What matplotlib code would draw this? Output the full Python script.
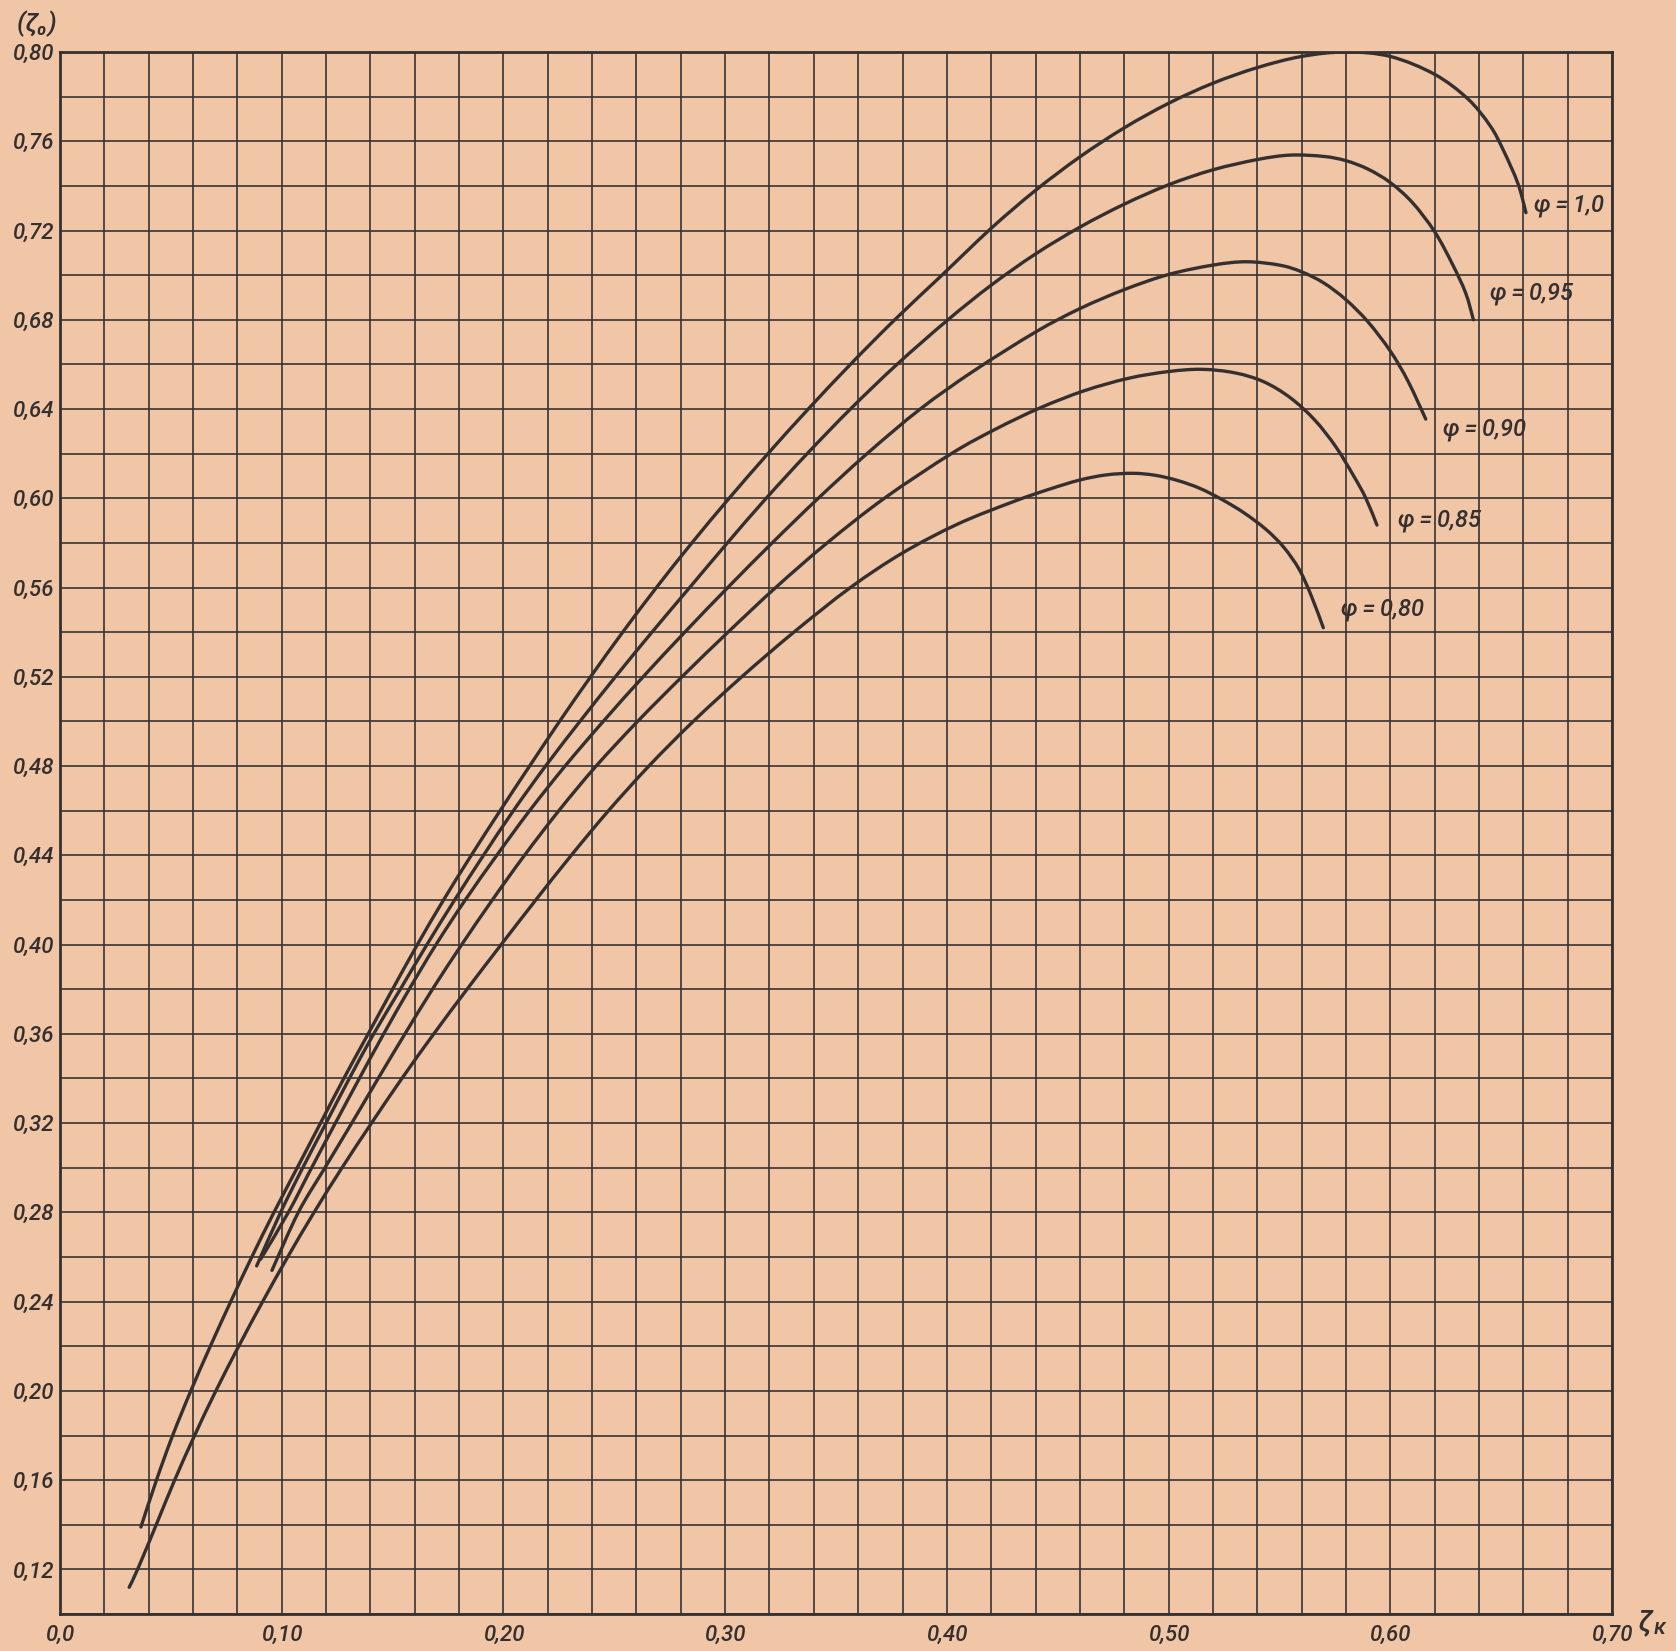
import numpy as np
import matplotlib.pyplot as plt
from matplotlib.path import Path
from matplotlib.patches import PathPatch

# curve values (tau_k, tau_0)
phi_labels = ['φ\u2009=\u20091,0', 'φ\u2009=\u20090,95', 'φ\u2009=\u20090,90',
              'φ\u2009=\u20090,85', 'φ\u2009=\u20090,80']

x_10 = [0.0365, 0.0435, 0.0508, 0.059, 0.0678, 0.077, 0.0865, 0.0965, 0.1070, 0.1175,
        0.1280, 0.1390, 0.1500, 0.1612, 0.1730, 0.1855, 0.1985, 0.2118, 0.2253, 0.2393,
        0.2538, 0.2690, 0.2850, 0.3018, 0.3193, 0.3375, 0.3565, 0.3765, 0.3978, 0.420,
        0.440, 0.460, 0.480, 0.500, 0.520, 0.540, 0.560, 0.580, 0.600, 0.620, 0.635,
        0.645, 0.651, 0.6576, 0.6612]
y_10 = [0.139, 0.160, 0.180, 0.200, 0.220, 0.240, 0.260, 0.280, 0.300, 0.320,
        0.340, 0.360, 0.380, 0.400, 0.420, 0.440, 0.460, 0.480, 0.500, 0.520,
        0.540, 0.560, 0.580, 0.600, 0.620, 0.640, 0.660, 0.680, 0.700, 0.721,
        0.738, 0.753, 0.766, 0.777, 0.786, 0.793, 0.798, 0.800, 0.798, 0.790, 0.779,
        0.767, 0.756, 0.741, 0.728]

x_095 = [0.0887, 0.0995, 0.1095, 0.1200, 0.1305, 0.1415, 0.1535, 0.1655, 0.1780, 0.1910,
         0.2045, 0.2190, 0.2345, 0.2505, 0.2670, 0.2840, 0.3010, 0.3185, 0.3370, 0.3565,
         0.3775, 0.4005, 0.420, 0.440, 0.460, 0.480, 0.500, 0.520, 0.540, 0.555, 0.570,
         0.580, 0.590, 0.600, 0.610, 0.620, 0.628, 0.634, 0.6375]
y_095 = [0.256, 0.280, 0.300, 0.320, 0.340, 0.360, 0.380, 0.400, 0.420, 0.440,
         0.460, 0.480, 0.500, 0.520, 0.540, 0.560, 0.580, 0.600, 0.620, 0.640,
         0.660, 0.680, 0.6955, 0.7095, 0.7215, 0.7318, 0.7405, 0.7472, 0.7518, 0.7538, 0.7532,
         0.7513, 0.7475, 0.7415, 0.7325, 0.7195, 0.705, 0.692, 0.680]

x_090 = [0.0905, 0.1030, 0.1135, 0.1242, 0.1350, 0.1460, 0.1575, 0.1696, 0.1828, 0.1970,
         0.2118, 0.2278, 0.2450, 0.2630, 0.2818, 0.3012, 0.3212, 0.3420, 0.3640, 0.3880,
         0.412, 0.440, 0.460, 0.480, 0.500, 0.520, 0.535, 0.550, 0.560, 0.570,
         0.580, 0.590, 0.600, 0.608, 0.616]
y_090 = [0.259, 0.280, 0.300, 0.320, 0.340, 0.360, 0.380, 0.400, 0.420, 0.440,
         0.460, 0.480, 0.500, 0.520, 0.540, 0.560, 0.580, 0.600, 0.620, 0.640,
         0.657, 0.6745, 0.6850, 0.6935, 0.7003, 0.7045, 0.706, 0.7045, 0.7015, 0.6965,
         0.6890, 0.6790, 0.6660, 0.6525, 0.6355]

x_085 = [0.0956, 0.1075, 0.1195, 0.1316, 0.1435, 0.1556, 0.1680, 0.1812, 0.1950, 0.2095,
         0.2250, 0.2418, 0.2605, 0.2805, 0.3013, 0.3228, 0.3460, 0.3718, 0.4020, 0.422,
         0.442, 0.462, 0.482, 0.500, 0.515, 0.530, 0.543, 0.555, 0.566, 0.5755,
         0.5835, 0.589, 0.594]
y_085 = [0.254, 0.280, 0.300, 0.320, 0.340, 0.360, 0.380, 0.400, 0.420, 0.440,
         0.460, 0.480, 0.500, 0.520, 0.540, 0.560, 0.580, 0.600, 0.620, 0.631,
         0.6405, 0.6482, 0.6538, 0.6568, 0.6578, 0.6562, 0.6522, 0.6450, 0.6350, 0.623,
         0.610, 0.600, 0.588]

x_080 = [0.0312, 0.0350, 0.0434, 0.0517, 0.0607, 0.0703, 0.0806, 0.0914, 0.1027, 0.1146,
         0.1272, 0.1405, 0.1542, 0.1686, 0.1836, 0.1990, 0.2146, 0.2306, 0.2474, 0.2656,
         0.2856, 0.3075, 0.3310, 0.3565, 0.380, 0.405, 0.430, 0.4466, 0.460, 0.472, 0.484,
         0.494, 0.504, 0.514, 0.524, 0.534, 0.544, 0.552, 0.559, 0.5645, 0.5698]
y_080 = [0.112, 0.120, 0.140, 0.160, 0.180, 0.200, 0.220, 0.240, 0.260, 0.280,
         0.300, 0.320, 0.340, 0.360, 0.380, 0.400, 0.420, 0.440, 0.460, 0.480,
         0.500, 0.520, 0.540, 0.560, 0.5755, 0.5885, 0.5985, 0.6042, 0.6082, 0.6105, 0.6112,
         0.6103, 0.6080, 0.6045, 0.5995, 0.5935, 0.5860, 0.5780, 0.5680, 0.556, 0.542]

x_ticks = [0.0, 0.1, 0.2, 0.3, 0.4, 0.5, 0.6, 0.7]
x_ticklabels = ['0,0', '0,10', '0,20', '0,30', '0,40', '0,50', '0,60', '0,70']
y_ticks = [0.12, 0.16, 0.20, 0.24, 0.28, 0.32, 0.36, 0.40, 0.44, 0.48,
           0.52, 0.56, 0.60, 0.64, 0.68, 0.72, 0.76, 0.80]
y_ticklabels = ['0,12', '0,16', '0,20', '0,24', '0,28', '0,32', '0,36', '0,40', '0,44', '0,48',
                '0,52', '0,56', '0,60', '0,64', '0,68', '0,72', '0,76', '0,80']

paper = '#f0c6a6'
ink = '#35302f'
fnt = ['Roboto', 'DejaVu Sans']


def drawn_curve(xs, ys):
    # smooth french-curve look: Catmull-Rom through the read points as Bezier segments
    p = np.column_stack([xs, ys])
    p = np.vstack([p[0], p, p[-1]])
    verts = [p[1]]
    codes = [Path.MOVETO]
    for i in range(1, len(p) - 2):
        verts += [p[i] + (p[i + 1] - p[i - 1]) / 6.0,
                  p[i + 1] - (p[i + 2] - p[i]) / 6.0,
                  p[i + 1]]
        codes += [Path.CURVE4] * 3
    return Path(verts, codes)


fig = plt.figure(figsize=(16.76, 16.51), dpi=100, facecolor=paper)
ax = fig.add_axes([0.0358, 0.0224, 0.926, 0.9461])
ax.set_facecolor(paper)

# grid every 0.02 on both axes
ax.set_xlim(0.0, 0.70)
ax.set_ylim(0.10, 0.80)
ax.set_xticks(np.arange(0.0, 0.701, 0.02), minor=True)
ax.set_yticks(np.arange(0.10, 0.801, 0.02), minor=True)
ax.set_xticks(x_ticks)
ax.set_yticks(y_ticks)
ax.set_xticklabels(x_ticklabels, fontsize=16, style='italic', weight='medium', family=fnt)
ax.set_yticklabels(y_ticklabels, fontsize=16, style='italic', weight='medium', family=fnt)
ax.grid(which='both', color=ink, linewidth=1.3, alpha=0.9)
ax.set_axisbelow(True)
ax.tick_params(which='both', length=0, colors=ink)
ax.tick_params(axis='x', pad=8)
ax.tick_params(axis='y', pad=5)
for s in ax.spines.values():
    s.set_linewidth(2.0)
    s.set_color(ink)

curves = [(x_10, y_10), (x_095, y_095), (x_090, y_090), (x_085, y_085), (x_080, y_080)]
for xs, ys in curves:
    ax.add_patch(PathPatch(drawn_curve(xs, ys), facecolor='none', edgecolor=ink,
                           linewidth=2.4, capstyle='round', joinstyle='round'))

# curve labels
label_pos = [(0.665, 0.731), (0.645, 0.692), (0.624, 0.631), (0.6035, 0.590), (0.578, 0.550)]
for txt, (lx, ly) in zip(phi_labels, label_pos):
    ax.text(lx, ly, txt, fontsize=17, style='italic', weight='medium', family=fnt,
            color=ink, ha='left', va='center')

# axis names
fig.text(0.022, 0.9855, '(ζ₀)', fontsize=19, style='italic', weight='medium', family=fnt,
         color=ink, ha='center', va='center')
fig.text(0.9815, 0.0176, 'ζ', fontsize=21, style='italic', weight='medium', family=fnt,
         color=ink, ha='center', va='center')
fig.text(0.9905, 0.0135, 'к', fontsize=16, style='italic', weight='medium', family=fnt,
         color=ink, ha='center', va='center')

fig.savefig('out.png', dpi=100, facecolor=paper)
